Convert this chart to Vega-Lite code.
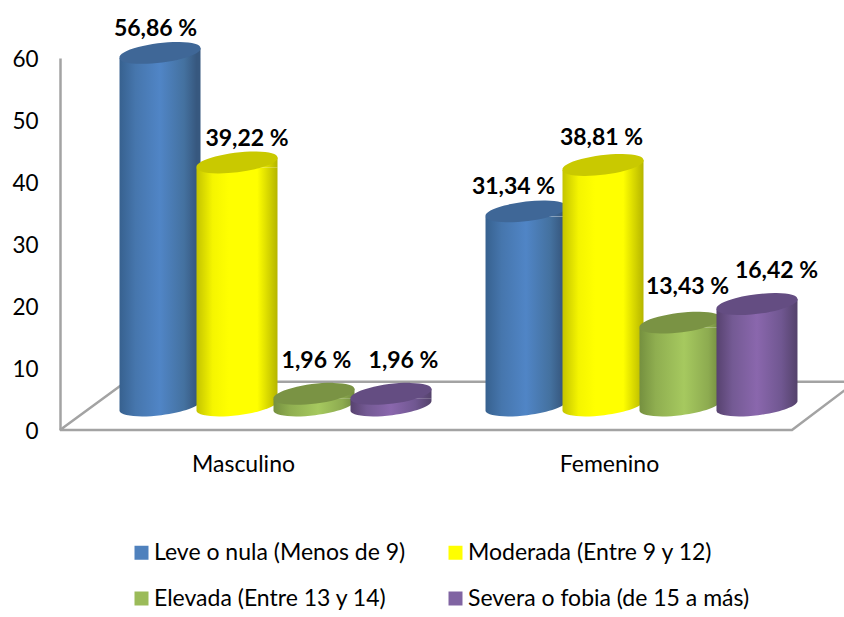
{
"$schema":"https://vega.github.io/schema/vega-lite/v6.json",
"width":784,"height":372,
"autosize":"none",
"padding":{"left":60,"top":58,"right":0,"bottom":187},
"background":"white",
"config":{"view":{"stroke":null},"font":"Lato"},
"datasets":{
"main":[
{"sexo":"Masculino","nivel":"Leve o nula (Menos de 9)","valor":56.86,"etiqueta":"56,86 %"},
{"sexo":"Masculino","nivel":"Moderada (Entre 9 y 12)","valor":39.22,"etiqueta":"39,22 %"},
{"sexo":"Masculino","nivel":"Elevada (Entre 13 y 14)","valor":1.96,"etiqueta":"1,96 %"},
{"sexo":"Masculino","nivel":"Severa o fobia (de 15 a más)","valor":1.96,"etiqueta":"1,96 %"},
{"sexo":"Femenino","nivel":"Leve o nula (Menos de 9)","valor":31.34,"etiqueta":"31,34 %"},
{"sexo":"Femenino","nivel":"Moderada (Entre 9 y 12)","valor":38.81,"etiqueta":"38,81 %"},
{"sexo":"Femenino","nivel":"Elevada (Entre 13 y 14)","valor":13.43,"etiqueta":"13,43 %"},
{"sexo":"Femenino","nivel":"Severa o fobia (de 15 a más)","valor":16.42,"etiqueta":"16,42 %"}
],
"piso":[
{"orden":1,"px":0,"py":0},
{"orden":2,"px":2,"py":0},
{"orden":3,"px":2.175,"py":7.8},
{"orden":4,"px":0.18,"py":7.8},
{"orden":5,"px":0,"py":0}
]},
"resolve":{"scale":{"x":"independent","y":"independent","color":"independent"},"axis":{"x":"independent","y":"independent"}},
"layer":[
{"data":{"name":"piso"},
 "mark":{"type":"line","color":"#a3a3a3","strokeWidth":2.5,"clip":false,"interpolate":"linear"},
 "encoding":{
  "x":{"field":"px","type":"quantitative","scale":{"domain":[0,2],"range":[0,732]},"axis":null},
  "y":{"field":"py","type":"quantitative","scale":{"domain":[0,60],"range":[372,0]},
   "axis":{"title":null,"values":[0,10,20,30,40,50,60],"grid":false,"ticks":false,"labelPadding":22,"labelOffset":1,"labelFontSize":22.5,"labelColor":"#000000","domainColor":"#a3a3a3","domainWidth":2.5}},
  "order":{"field":"orden","type":"quantitative"}}},
{"data":{"name":"main"},
 "mark":{"type":"point","filled":true,"size":0},
 "encoding":{
  "x":{"field":"sexo","type":"nominal","sort":["Masculino","Femenino"],"scale":{"range":[0,732],"paddingInner":0,"paddingOuter":0},
   "axis":{"title":null,"orient":"bottom","domain":false,"ticks":false,"labelAngle":0,"labelPadding":23,"labelFontSize":23,"labelColor":"#000000"}},
  "y":{"datum":0,"type":"quantitative","scale":{"domain":[0,60],"range":[372,0]},"axis":null},
  "color":{"field":"nivel","type":"nominal",
   "scale":{"domain":["Leve o nula (Menos de 9)","Moderada (Entre 9 y 12)","Elevada (Entre 13 y 14)","Severa o fobia (de 15 a más)"],"range":["#4f81bd","#ffff00","#9bbb59","#8064a2"]},
   "legend":{"title":null,"orient":"none","direction":"horizontal","legendX":70,"legendY":483,"columns":2,"symbolType":"square","symbolSize":196,"symbolOpacity":1,"symbolStrokeWidth":0,"labelFontSize":23,"labelColor":"#000000","labelLimit":400,"labelOffset":1,"columnPadding":38,"rowPadding":22,"gridAlign":"each"}}}},
{"data":{"name":"main"},
 "encoding":{
  "x":{"field":"sexo","type":"nominal","sort":["Masculino","Femenino"],"scale":{"range":[32.5,764.5],"paddingInner":0,"paddingOuter":0},"axis":null},
  "xOffset":{"field":"nivel","type":"nominal","sort":["Leve o nula (Menos de 9)","Moderada (Entre 9 y 12)","Elevada (Entre 13 y 14)","Severa o fobia (de 15 a más)"],"scale":{"domain":["Leve o nula (Menos de 9)","Moderada (Entre 9 y 12)","Elevada (Entre 13 y 14)","Severa o fobia (de 15 a más)"],"paddingInner":0,"paddingOuter":0.377}},
  "y":{"field":"valor","type":"quantitative","scale":{"domain":[0,60],"range":[348,-24.6]},"axis":null}
 },
 "layer":[
  {"transform":[{"filter":"datum.nivel=='Leve o nula (Menos de 9)'"}],
   "layer":[
    {"mark":{"type":"bar","width":81,"yOffset":5,"y2Offset":-5,"color":{"gradient":"linear","x1":0,"y1":0,"x2":1,"y2":0,"stops":[{"offset":0,"color":"#37618f"},{"offset":0.2,"color":"#4676ad"},{"offset":0.5,"color":"#5085c6"},{"offset":0.8,"color":"#44719f"},{"offset":0.95,"color":"#37587f"}]}},"encoding":{"y2":{"datum":0}}},
    {"mark":{"type":"point","filled":true,"opacity":1,"size":6561,"shape":"M1,-0.123A1.008,0.235,-7,0,1,-1,0.123L-1,-0.123Z","color":{"gradient":"linear","x1":0,"y1":0,"x2":1,"y2":0,"stops":[{"offset":0,"color":"#37618f"},{"offset":0.2,"color":"#4676ad"},{"offset":0.5,"color":"#5085c6"},{"offset":0.8,"color":"#44719f"},{"offset":0.95,"color":"#37587f"}]}},"encoding":{"y":{"datum":0}}},
    {"mark":{"type":"point","filled":true,"opacity":1,"size":6561,"shape":"M-1,0.123L1,-0.123L1,0.123L-1,0.123Z","color":{"gradient":"linear","x1":0,"y1":0,"x2":1,"y2":0,"stops":[{"offset":0,"color":"#37618f"},{"offset":0.2,"color":"#4676ad"},{"offset":0.5,"color":"#5085c6"},{"offset":0.8,"color":"#44719f"},{"offset":0.95,"color":"#37587f"}]}}},
    {"mark":{"type":"point","filled":true,"opacity":1,"size":6561,"color":"#3f6797","shape":"M-1,0.123A1.008,0.235,-7,1,1,1,-0.123A1.008,0.235,-7,1,1,-1,0.123Z"}}
   ]},
  {"transform":[{"filter":"datum.nivel=='Moderada (Entre 9 y 12)'"}],
   "layer":[
    {"mark":{"type":"bar","width":81,"yOffset":5,"y2Offset":-5,"color":{"gradient":"linear","x1":0,"y1":0,"x2":1,"y2":0,"stops":[{"offset":0,"color":"#c4c400"},{"offset":0.2,"color":"#f5f500"},{"offset":0.4,"color":"#ffff00"},{"offset":0.75,"color":"#ffff00"},{"offset":1,"color":"#b5b500"}]}},"encoding":{"y2":{"datum":0}}},
    {"mark":{"type":"point","filled":true,"opacity":1,"size":6561,"shape":"M1,-0.123A1.008,0.235,-7,0,1,-1,0.123L-1,-0.123Z","color":{"gradient":"linear","x1":0,"y1":0,"x2":1,"y2":0,"stops":[{"offset":0,"color":"#c4c400"},{"offset":0.2,"color":"#f5f500"},{"offset":0.4,"color":"#ffff00"},{"offset":0.75,"color":"#ffff00"},{"offset":1,"color":"#b5b500"}]}},"encoding":{"y":{"datum":0}}},
    {"mark":{"type":"point","filled":true,"opacity":1,"size":6561,"shape":"M-1,0.123L1,-0.123L1,0.123L-1,0.123Z","color":{"gradient":"linear","x1":0,"y1":0,"x2":1,"y2":0,"stops":[{"offset":0,"color":"#c4c400"},{"offset":0.2,"color":"#f5f500"},{"offset":0.4,"color":"#ffff00"},{"offset":0.75,"color":"#ffff00"},{"offset":1,"color":"#b5b500"}]}}},
    {"mark":{"type":"point","filled":true,"opacity":1,"size":6561,"color":"#c9c900","shape":"M-1,0.123A1.008,0.235,-7,1,1,1,-0.123A1.008,0.235,-7,1,1,-1,0.123Z"}}
   ]},
  {"transform":[{"filter":"datum.nivel=='Elevada (Entre 13 y 14)'"}],
   "layer":[
    {"mark":{"type":"bar","width":81,"yOffset":5,"y2Offset":-5,"color":{"gradient":"linear","x1":0,"y1":0,"x2":1,"y2":0,"stops":[{"offset":0,"color":"#75903f"},{"offset":0.2,"color":"#8fae50"},{"offset":0.55,"color":"#a6c95f"},{"offset":0.85,"color":"#8dab50"},{"offset":1,"color":"#718a3f"}]}},"encoding":{"y2":{"datum":0}}},
    {"mark":{"type":"point","filled":true,"opacity":1,"size":6561,"shape":"M1,-0.123A1.008,0.235,-7,0,1,-1,0.123L-1,-0.123Z","color":{"gradient":"linear","x1":0,"y1":0,"x2":1,"y2":0,"stops":[{"offset":0,"color":"#75903f"},{"offset":0.2,"color":"#8fae50"},{"offset":0.55,"color":"#a6c95f"},{"offset":0.85,"color":"#8dab50"},{"offset":1,"color":"#718a3f"}]}},"encoding":{"y":{"datum":0}}},
    {"mark":{"type":"point","filled":true,"opacity":1,"size":6561,"shape":"M-1,0.123L1,-0.123L1,0.123L-1,0.123Z","color":{"gradient":"linear","x1":0,"y1":0,"x2":1,"y2":0,"stops":[{"offset":0,"color":"#75903f"},{"offset":0.2,"color":"#8fae50"},{"offset":0.55,"color":"#a6c95f"},{"offset":0.85,"color":"#8dab50"},{"offset":1,"color":"#718a3f"}]}}},
    {"mark":{"type":"point","filled":true,"opacity":1,"size":6561,"color":"#7a9344","shape":"M-1,0.123A1.008,0.235,-7,1,1,1,-0.123A1.008,0.235,-7,1,1,-1,0.123Z"}}
   ]},
  {"transform":[{"filter":"datum.nivel=='Severa o fobia (de 15 a más)'"}],
   "layer":[
    {"mark":{"type":"bar","width":81,"yOffset":5,"y2Offset":-5,"color":{"gradient":"linear","x1":0,"y1":0,"x2":1,"y2":0,"stops":[{"offset":0,"color":"#57426f"},{"offset":0.2,"color":"#745a94"},{"offset":0.5,"color":"#8a67ad"},{"offset":0.8,"color":"#705791"},{"offset":1,"color":"#54426b"}]}},"encoding":{"y2":{"datum":0}}},
    {"mark":{"type":"point","filled":true,"opacity":1,"size":6561,"shape":"M1,-0.123A1.008,0.235,-7,0,1,-1,0.123L-1,-0.123Z","color":{"gradient":"linear","x1":0,"y1":0,"x2":1,"y2":0,"stops":[{"offset":0,"color":"#57426f"},{"offset":0.2,"color":"#745a94"},{"offset":0.5,"color":"#8a67ad"},{"offset":0.8,"color":"#705791"},{"offset":1,"color":"#54426b"}]}},"encoding":{"y":{"datum":0}}},
    {"mark":{"type":"point","filled":true,"opacity":1,"size":6561,"shape":"M-1,0.123L1,-0.123L1,0.123L-1,0.123Z","color":{"gradient":"linear","x1":0,"y1":0,"x2":1,"y2":0,"stops":[{"offset":0,"color":"#57426f"},{"offset":0.2,"color":"#745a94"},{"offset":0.5,"color":"#8a67ad"},{"offset":0.8,"color":"#705791"},{"offset":1,"color":"#54426b"}]}}},
    {"mark":{"type":"point","filled":true,"opacity":1,"size":6561,"color":"#644d82","shape":"M-1,0.123A1.008,0.235,-7,1,1,1,-0.123A1.008,0.235,-7,1,1,-1,0.123Z"}}
   ]},
  {"transform":[{"filter":"datum.sexo=='Masculino'&&datum.valor==56.86"}],"mark":{"type":"text","fontWeight":"bold","fontSize":23,"color":"#000000","dx":-4.5,"dy":-24},"encoding":{"text":{"field":"etiqueta"}}},
  {"transform":[{"filter":"datum.sexo=='Masculino'&&datum.valor==39.22"}],"mark":{"type":"text","fontWeight":"bold","fontSize":23,"color":"#000000","dx":10,"dy":-23.6},"encoding":{"text":{"field":"etiqueta"}}},
  {"transform":[{"filter":"datum.sexo=='Masculino'&&datum.nivel=='Elevada (Entre 13 y 14)'"}],"mark":{"type":"text","fontWeight":"bold","fontSize":23,"color":"#000000","dx":2.5,"dy":-33},"encoding":{"text":{"field":"etiqueta"}}},
  {"transform":[{"filter":"datum.sexo=='Masculino'&&datum.nivel=='Severa o fobia (de 15 a más)'"}],"mark":{"type":"text","fontWeight":"bold","fontSize":23,"color":"#000000","dx":12.5,"dy":-33},"encoding":{"text":{"field":"etiqueta"}}},
  {"transform":[{"filter":"datum.sexo=='Femenino'&&datum.valor==31.34"}],"mark":{"type":"text","fontWeight":"bold","fontSize":23,"color":"#000000","dx":-12.5,"dy":-24.4},"encoding":{"text":{"field":"etiqueta"}}},
  {"transform":[{"filter":"datum.sexo=='Femenino'&&datum.valor==38.81"}],"mark":{"type":"text","fontWeight":"bold","fontSize":23,"color":"#000000","dx":-1.5,"dy":-27},"encoding":{"text":{"field":"etiqueta"}}},
  {"transform":[{"filter":"datum.sexo=='Femenino'&&datum.valor==13.43"}],"mark":{"type":"text","fontWeight":"bold","fontSize":23,"color":"#000000","dx":7.5,"dy":-35.6},"encoding":{"text":{"field":"etiqueta"}}},
  {"transform":[{"filter":"datum.sexo=='Femenino'&&datum.valor==16.42"}],"mark":{"type":"text","fontWeight":"bold","fontSize":23,"color":"#000000","dx":19.5,"dy":-33},"encoding":{"text":{"field":"etiqueta"}}}
 ]}
]}
